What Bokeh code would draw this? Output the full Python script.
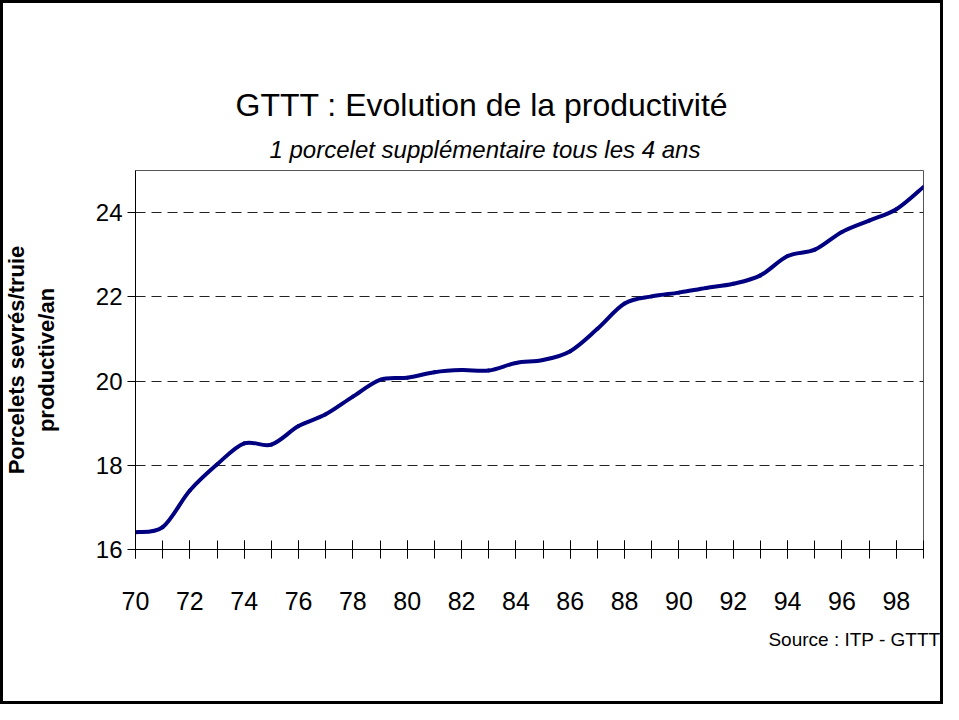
from bokeh.plotting import figure
from bokeh.models import Title, FixedTicker, Range1d
from bokeh.embed import file_html
from bokeh.resources import INLINE

# ---- data ----
years = [70, 71, 72, 73, 74, 75, 76, 77, 78, 79, 80, 81, 82, 83, 84,
         85, 86, 87, 88, 89, 90, 91, 92, 93, 94, 95, 96, 97, 98, 99]
porcelets = [16.41, 16.53, 17.40, 18.02, 18.52, 18.49, 18.93, 19.21, 19.63, 20.03,
             20.08, 20.21, 20.26, 20.25, 20.43, 20.50, 20.71, 21.24, 21.84, 22.01,
             22.10, 22.21, 22.31, 22.51, 22.97, 23.12, 23.54, 23.81, 24.08, 24.61]
x_tick_labels = [70, 72, 74, 76, 78, 80, 82, 84, 86, 88, 90, 92, 94, 96, 98]
y_ticks = [16, 18, 20, 22, 24]

title_text = "GTTT : Evolution de la productivité"
subtitle_text = "1 porcelet supplémentaire tous les 4 ans"
source_text = "Source : ITP - GTTT"
ylabel_text = "Porcelets sevrés/truie\nproductive/an"

FONT = "Liberation Sans"

p = figure(width=943, height=704, output_backend="svg", toolbar_location=None,
           x_range=Range1d(70, 99), y_range=Range1d(16, 25),
           min_border_left=135, min_border_right=20,
           min_border_top=170, min_border_bottom=155)
p.border_fill_color = None
p.background_fill_color = "white"
p.outline_line_color = "#555555"
p.outline_line_width = 1
p.styles = {"outline": "3px solid black", "outline-offset": "-3px"}

# smoothed line through every data point (Catmull-Rom as cubic Bezier segments)
n = len(years)
def _pt(seq, i):
    return seq[min(max(i, 0), n - 1)]
x0 = years[:-1]; y0 = porcelets[:-1]
x1 = years[1:];  y1 = porcelets[1:]
cx0 = [_pt(years, i) + (_pt(years, i + 1) - _pt(years, i - 1)) / 6 for i in range(n - 1)]
cy0 = [_pt(porcelets, i) + (_pt(porcelets, i + 1) - _pt(porcelets, i - 1)) / 6 for i in range(n - 1)]
cx1 = [_pt(years, i + 1) - (_pt(years, i + 2) - _pt(years, i)) / 6 for i in range(n - 1)]
cy1 = [_pt(porcelets, i + 1) - (_pt(porcelets, i + 2) - _pt(porcelets, i)) / 6 for i in range(n - 1)]
p.bezier(x0=x0, y0=y0, x1=x1, y1=y1, cx0=cx0, cy0=cy0, cx1=cx1, cy1=cy1,
         line_color="#000080", line_width=4, line_cap="round")

# x axis
xa = p.xaxis[0]
xa.ticker = FixedTicker(ticks=x_tick_labels, minor_ticks=years)
xa.axis_line_color = "black"
xa.major_tick_in = 9
xa.major_tick_out = 9
xa.minor_tick_in = 9
xa.minor_tick_out = 9
xa.major_tick_line_color = "black"
xa.minor_tick_line_color = "black"
xa.major_label_text_font = FONT
xa.major_label_text_font_size = "25px"
xa.major_label_text_color = "black"
xa.major_label_standoff = 33

# y axis
ya = p.yaxis[0]
ya.ticker = FixedTicker(ticks=y_ticks, minor_ticks=[])
ya.axis_line_color = "black"
ya.major_tick_in = 0
ya.major_tick_out = 8
ya.major_tick_line_color = "black"
ya.major_label_text_font = FONT
ya.major_label_text_font_size = "24px"
ya.major_label_text_color = "black"
ya.major_label_standoff = 5
ya.axis_label = ylabel_text
ya.axis_label_text_font = FONT
ya.axis_label_text_font_size = "22px"
ya.axis_label_text_font_style = "bold"
ya.axis_label_text_color = "black"
ya.axis_label_standoff = 34

# grid
p.xgrid.grid_line_color = None
p.ygrid.ticker = FixedTicker(ticks=y_ticks[1:])
p.ygrid.grid_line_color = "#222222"
p.ygrid.grid_line_dash = "10 6"
p.ygrid.grid_line_width = 1

# titles (subtitle first = nearest the plot)
p.add_layout(Title(text=subtitle_text, text_font=FONT, text_font_size="24px",
                   text_font_style="italic", align="left", offset=134,
                   standoff=16, text_color="black"), "above")
p.add_layout(Title(text=title_text, text_font=FONT, text_font_size="32px",
                   text_font_style="normal", align="left", offset=100,
                   standoff=5, text_color="black"), "above")
p.add_layout(Title(text=source_text, text_font=FONT, text_font_size="19px",
                   text_font_style="normal", align="right", offset=-17,
                   standoff=28, text_color="black"), "below")

open("out.html", "w").write(file_html(p, INLINE))
